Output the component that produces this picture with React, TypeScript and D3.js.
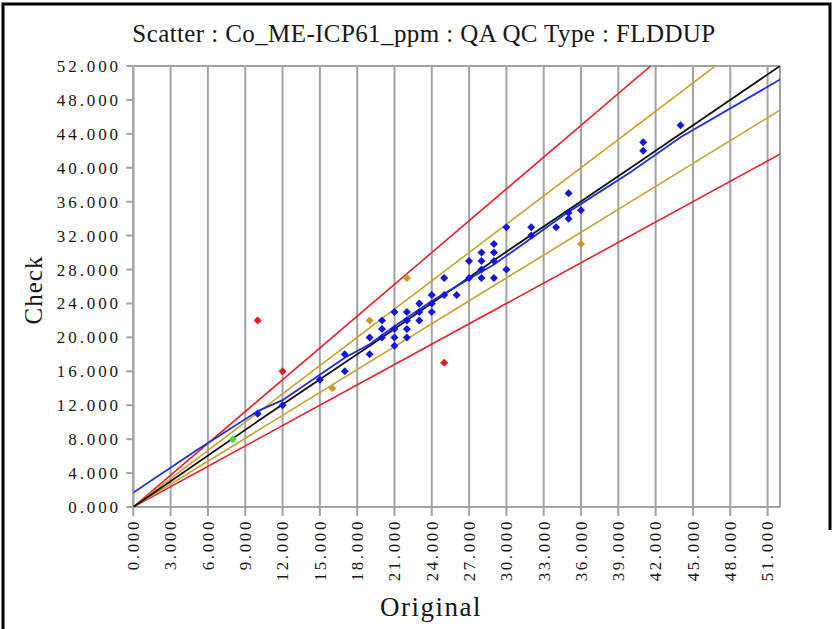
import React from "react";
import * as d3 from "d3";

const xTicks = [0, 3, 6, 9, 12, 15, 18, 21, 24, 27, 30, 33, 36, 39, 42, 45, 48, 51];
const yTicks = [0, 4, 8, 12, 16, 20, 24, 28, 32, 36, 40, 44, 48, 52];

const blueOriginal = [10, 12, 15, 17, 17, 19, 19, 20, 20, 20, 21, 21, 21, 21, 22, 22, 22, 22, 23, 23, 23, 24, 24, 24, 25, 25, 26, 27, 27, 28, 28, 28, 28, 29, 29, 29, 29, 30, 30, 32, 32, 34, 35, 35, 35, 36, 41, 41, 44];
const blueCheck = [11, 12, 15, 18, 16, 20, 18, 22, 21, 20, 23, 21, 20, 19, 23, 22, 21, 20, 24, 23, 22, 25, 24, 23, 27, 25, 25, 29, 27, 30, 29, 28, 27, 31, 30, 29, 27, 33, 28, 33, 32, 33, 37, 34.7, 34, 35, 43, 42, 45];

const goldOriginal = [16, 19, 22, 36];
const goldCheck = [14, 22, 27, 31];
const redOriginal = [10, 12, 25];
const redCheck = [22, 16, 17];
const greenOriginal = [8];
const greenCheck = [8];

// reference lines
const oneToOneX = [0, 10, 20, 30, 40, 52];
const oneToOneY = [0, 10.1, 20, 30.1, 40, 52];
const upper10X = [0, 46.8];
const upper10Y = [0, 52];
const lower10X = [0, 52];
const lower10Y = [0, 46.8];
const upper20X = [0, 41.6];
const upper20Y = [0, 52];
const lower20X = [0, 52];
const lower20Y = [0, 41.6];
const regX = [0, 5, 10, 12, 15, 17, 19, 21, 24, 27, 29, 32, 35, 40, 44, 52];
const regY = [1.7, 6.6, 11.3, 12.6, 15.6, 17.6, 19.2, 21.3, 24.3, 26.9, 28.6, 31.7, 34.8, 39.5, 43.6, 50.4];

const W = 834;
const H = 629;
const left = 133.3;
const right = 780;
const top = 66;
const bottom = 507;
const FONT = "'Liberation Serif', 'Times New Roman', serif";
const INK = "#161616";

export default function App() {
  const x = d3.scaleLinear().domain([0, 52]).range([left, right]);
  const y = d3.scaleLinear().domain([0, 52]).range([bottom, top]);
  const line = d3
    .line<[number, number]>()
    .x((d) => x(d[0]))
    .y((d) => y(d[1]));
  const zip = (a: number[], b: number[]) => a.map((v, i) => [v, b[i]] as [number, number]);
  const diamond = d3.symbol().type(d3.symbolSquare).size(32)();
  const fmt = d3.format(".3f");

  const refLines: { xs: number[]; ys: number[]; color: string; w: number }[] = [
    { xs: upper20X, ys: upper20Y, color: "#e3242b", w: 1.6 },
    { xs: lower20X, ys: lower20Y, color: "#e3242b", w: 1.6 },
    { xs: upper10X, ys: upper10Y, color: "#c9a132", w: 1.6 },
    { xs: lower10X, ys: lower10Y, color: "#c9a132", w: 1.6 },
    { xs: oneToOneX, ys: oneToOneY, color: "#111111", w: 1.8 },
    { xs: regX, ys: regY, color: "#1f2fd8", w: 1.8 },
  ];

  const pointSets: { xs: number[]; ys: number[]; color: string }[] = [
    { xs: blueOriginal, ys: blueCheck, color: "#1414e6" },
    { xs: goldOriginal, ys: goldCheck, color: "#c99a2e" },
    { xs: redOriginal, ys: redCheck, color: "#e31b23" },
    { xs: greenOriginal, ys: greenCheck, color: "#3fe03f" },
  ];

  return (
    <div style={{ position: "absolute", left: 0, top: 0 }}>
      <svg width={W} height={H} style={{ display: "block", background: "#fff" }}>
        <rect x={0} y={0} width={W} height={H} fill="#fff" />
        {/* outer frame */}
        <path d={`M3,${H} V4 H830 V530`} fill="none" stroke="#000" strokeWidth={3} />
        <text
          x={424}
          y={42}
          textAnchor="middle"
          fontFamily={FONT}
          fontSize={25}
          letterSpacing={0.4}
          fill={INK}
        >
          Scatter : Co_ME-ICP61_ppm : QA QC Type : FLDDUP
        </text>

        <defs>
          <clipPath id="plotClip">
            <rect x={left} y={top} width={right - left} height={bottom - top} />
          </clipPath>
        </defs>

        {/* vertical grid */}
        {xTicks.map((t) => (
          <line key={"g" + t} x1={x(t)} x2={x(t)} y1={top} y2={bottom + 9} stroke="#a3a3a3" strokeWidth={2} />
        ))}
        {/* frame of plot */}
        <line x1={left} x2={right} y1={top} y2={top} stroke="#a3a3a3" strokeWidth={2} />
        <line x1={left} x2={right} y1={bottom} y2={bottom} stroke="#a3a3a3" strokeWidth={2} />
        <line x1={left} x2={left} y1={top} y2={bottom} stroke="#a3a3a3" strokeWidth={2} />
        <line x1={right} x2={right} y1={top} y2={bottom} stroke="#a3a3a3" strokeWidth={2} />
        {/* y ticks */}
        {yTicks.map((t) => (
          <g key={"y" + t}>
            <line x1={left - 7} x2={left} y1={y(t)} y2={y(t)} stroke="#a3a3a3" strokeWidth={2} />
            <text
              x={121}
              y={y(t) + 6}
              textAnchor="end"
              fontFamily={FONT}
              fontSize={17}
              letterSpacing={2.9}
              fill={INK}
            >
              {fmt(t)}
            </text>
          </g>
        ))}
        {/* x tick labels */}
        {xTicks.map((t) => (
          <text
            key={"x" + t}
            transform={`translate(${x(t) + 5.8},${519}) rotate(-90)`}
            textAnchor="end"
            fontFamily={FONT}
            fontSize={17}
            letterSpacing={2.6}
            fill={INK}
          >
            {fmt(t)}
          </text>
        ))}

        <g clipPath="url(#plotClip)">
          {refLines.map((l, i) => (
            <path key={"l" + i} d={line(zip(l.xs, l.ys)) || ""} fill="none" stroke={l.color} strokeWidth={l.w} />
          ))}
          {pointSets.map((s, i) =>
            s.xs.map((v, j) => (
              <path
                key={`p${i}-${j}`}
                d={diamond || ""}
                transform={`translate(${x(v)},${y(s.ys[j])}) rotate(45)`}
                fill={s.color}
              />
            ))
          )}
        </g>

        <text
          transform={`translate(42,290) rotate(-90)`}
          textAnchor="middle"
          fontFamily={FONT}
          fontSize={25}
          letterSpacing={1}
          fill={INK}
        >
          Check
        </text>
        <text x={431} y={616} textAnchor="middle" fontFamily={FONT} fontSize={27} letterSpacing={1.5} fill={INK}>
          Original
        </text>
      </svg>
    </div>
  );
}
